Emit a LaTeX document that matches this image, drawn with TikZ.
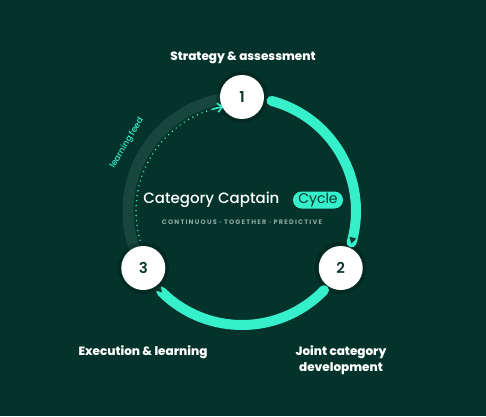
\documentclass[tikz,border=0pt]{standalone}
\usepackage{fontspec}
\setmainfont{Poppins}
\newfontfamily\popmed{Poppins Medium}
\newfontfamily\popsb{Poppins SemiBold}
\newfontfamily\popb{Poppins Bold}
\newfontfamily\popxb{Poppins ExtraBold}
\usetikzlibrary{arrows.meta,calc}
\definecolor{bg}{HTML}{03332A}
\definecolor{teal}{HTML}{36EFCB}
\definecolor{faint}{HTML}{16463C}
\definecolor{numc}{HTML}{0C372E}
\definecolor{subg}{HTML}{8FA8A1}
\tikzset{
  stepnode/.style={circle, fill=white, minimum size=44pt, inner sep=0pt, font=\popsb\fontsize{15}{15}\selectfont, text=numc},
  shadowc/.style={circle, fill=black, opacity=0.18, minimum size=52pt, inner sep=0pt},
  lbl/.style={text=white, font=\popxb\fontsize{12}{15.5}\selectfont, align=center},
  mainarc/.style={teal, line width=10pt, line cap=round},
  tipmark/.style={fill=numc},
}
\begin{document}
\begin{tikzpicture}[x=1pt,y=1pt]
\fill[bg] (0,0) rectangle (486,416);
\useasboundingbox (0,0) rectangle (486,416);
\coordinate (C) at (242,205);
% faint arc 3 -> 1
\draw[faint, line width=11pt] ($(C)+(202:114)$) arc[start angle=202, end angle=97, radius=114];
% shadows
\node[shadowc] at ($(C)+(90:114)$) {};
\node[shadowc] at ($(C)+(-30:114)$) {};
\node[shadowc] at ($(C)+(210:114)$) {};
% main arcs
\draw[mainarc] ($(C)+(75:114)$) arc[start angle=75, end angle=-16, radius=114];
\draw[mainarc] ($(C)+(-44:114)$) arc[start angle=-44, end angle=-135, radius=114];
% arrow marks inside arc ends
\begin{scope}[shift={(C)}, rotate=-14]
  \fill[tipmark] (110.5,1) -- (117.5,1) -- (114,-5) -- cycle;
\end{scope}
\begin{scope}[shift={(C)}, rotate=-137]
  \fill[tipmark] (110.5,-1) -- (117.5,-1) -- (114,5) -- cycle;
\end{scope}
% dotted learning feed arc
\draw[teal, line width=1.6pt, line cap=round, dash pattern=on 0pt off 5pt] ($(C)+(196:106)$) arc[start angle=196, end angle=104, radius=106];
\draw[teal, line width=1.6pt, line cap=round, -{Straight Barb[length=5pt,width=9pt]}] ($(C)+(106:106)$) arc[start angle=106, end angle=100, radius=106];
% nodes
\node[stepnode] (s1) at ($(C)+(90:114)$) {1};
\node[stepnode] (s2) at ($(C)+(-30:114)$) {2};
\node[stepnode] (s3) at ($(C)+(210:114)$) {3};
% labels
\node[lbl] (l1) at (243,358) {Strategy \& assessment};
\node[lbl] (l3) at (143,64) {Execution \& learning};
\node[lbl] (l2) at (341,56) {Joint category\\development};
\node[text=teal, font=\popmed\fontsize{8.5}{8.5}\selectfont, rotate=59] (lf) at (127,273) {learning feed};
% title
\node[text=white, font=\popmed\fontsize{15}{15}\selectfont, anchor=east] (tt) at (283,216) {Category Captain};
\node[fill=teal, rounded corners=8.5pt, minimum height=17pt, minimum width=50pt, inner sep=0pt, text=numc, font=\fontsize{14}{14}\selectfont] (cy) at (318,216) {Cycle};
\node[text=subg, font=\popb\fontsize{6.5}{6.5}\selectfont\addfontfeature{LetterSpace=19}] (sub) at (242,194) {CONTINUOUS · TOGETHER · PREDICTIVE};
\end{tikzpicture}
\end{document}
